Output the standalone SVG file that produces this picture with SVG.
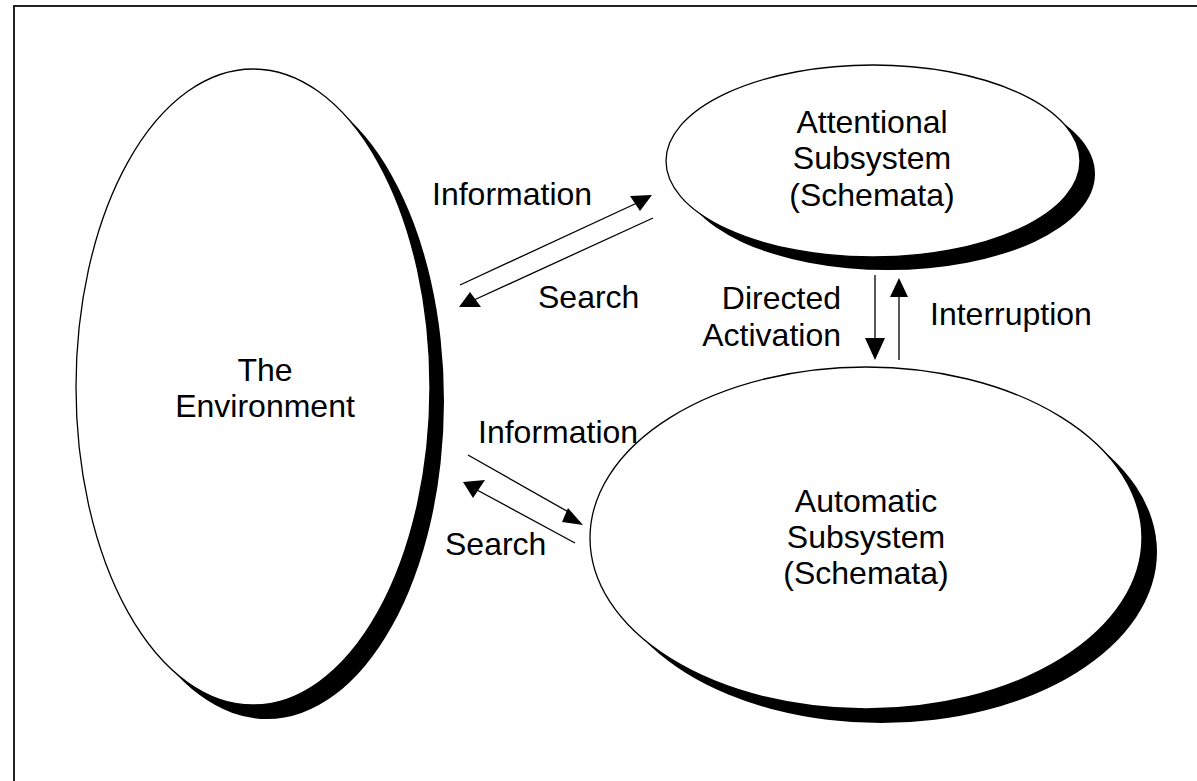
<svg xmlns="http://www.w3.org/2000/svg" width="1197" height="781" viewBox="0 0 1197 781">
  <style>
    .frame { fill: none; stroke: #222; stroke-width: 2; }
    .shadow { fill: #000; stroke: none; }
    .body { fill: #fff; stroke: #000; stroke-width: 1.3; }
    .label { font-family: "Liberation Sans", Arial, sans-serif; font-size: 32px; fill: #000; }
    .mid { text-anchor: middle; }
    .end { text-anchor: end; }
    .wire { stroke: #000; stroke-width: 1.3; fill: none; }
    .head { fill: #000; stroke: none; }
  </style>
  <rect width="1197" height="781" fill="#fff"/>
  <!-- page frame (runs off the right and bottom edges) -->
  <path class="frame" d="M14,781 V6 H1197"/>

  <g id="environment">
    <ellipse class="shadow" cx="267" cy="401" rx="177" ry="318"/>
    <ellipse class="body" cx="253" cy="387" rx="177" ry="318"/>
    <text class="label mid" x="265" y="381">The</text>
    <text class="label mid" x="265" y="417">Environment</text>
  </g>

  <g id="attentional">
    <ellipse class="shadow" cx="888" cy="174" rx="207" ry="96"/>
    <ellipse class="body" cx="873" cy="161" rx="207" ry="96"/>
    <text class="label mid" x="872" y="133">Attentional</text>
    <text class="label mid" x="872" y="169">Subsystem</text>
    <text class="label mid" x="872" y="206">(Schemata)</text>
  </g>

  <g id="automatic">
    <ellipse class="shadow" cx="881" cy="552" rx="276" ry="171"/>
    <ellipse class="body" cx="866" cy="538" rx="276" ry="171"/>
    <text class="label mid" x="866" y="512">Automatic</text>
    <text class="label mid" x="866" y="548">Subsystem</text>
    <text class="label mid" x="866" y="584">(Schemata)</text>
  </g>

  <g id="connectors">
    <!-- environment <-> attentional -->
    <line class="wire" x1="460" y1="285" x2="637" y2="203"/>
    <polygon class="head" points="630,196 652,195 640,211"/>
    <line class="wire" x1="653" y1="218" x2="474" y2="300"/>
    <polygon class="head" points="470,292 459,307 481,307"/>
    <!-- environment <-> automatic -->
    <line class="wire" x1="468" y1="455" x2="572" y2="514"/>
    <polygon class="head" points="568,508 562,522 583,525"/>
    <line class="wire" x1="575" y1="543" x2="477" y2="490"/>
    <polygon class="head" points="463,482 485,480 473,498"/>
    <!-- attentional <-> automatic -->
    <line class="wire" x1="875" y1="275" x2="875" y2="342"/>
    <polygon class="head" points="865,338 885,338 875,360"/>
    <line class="wire" x1="899" y1="360" x2="899" y2="294"/>
    <polygon class="head" points="890,297 908,297 899,278"/>
  </g>

  <g id="labels">
    <text class="label" x="432" y="205">Information</text>
    <text class="label" x="538" y="308">Search</text>
    <text class="label" x="478" y="443">Information</text>
    <text class="label" x="445" y="555">Search</text>
    <text class="label end" x="841" y="309">Directed</text>
    <text class="label end" x="841" y="346">Activation</text>
    <text class="label" x="930" y="325">Interruption</text>
  </g>
</svg>
